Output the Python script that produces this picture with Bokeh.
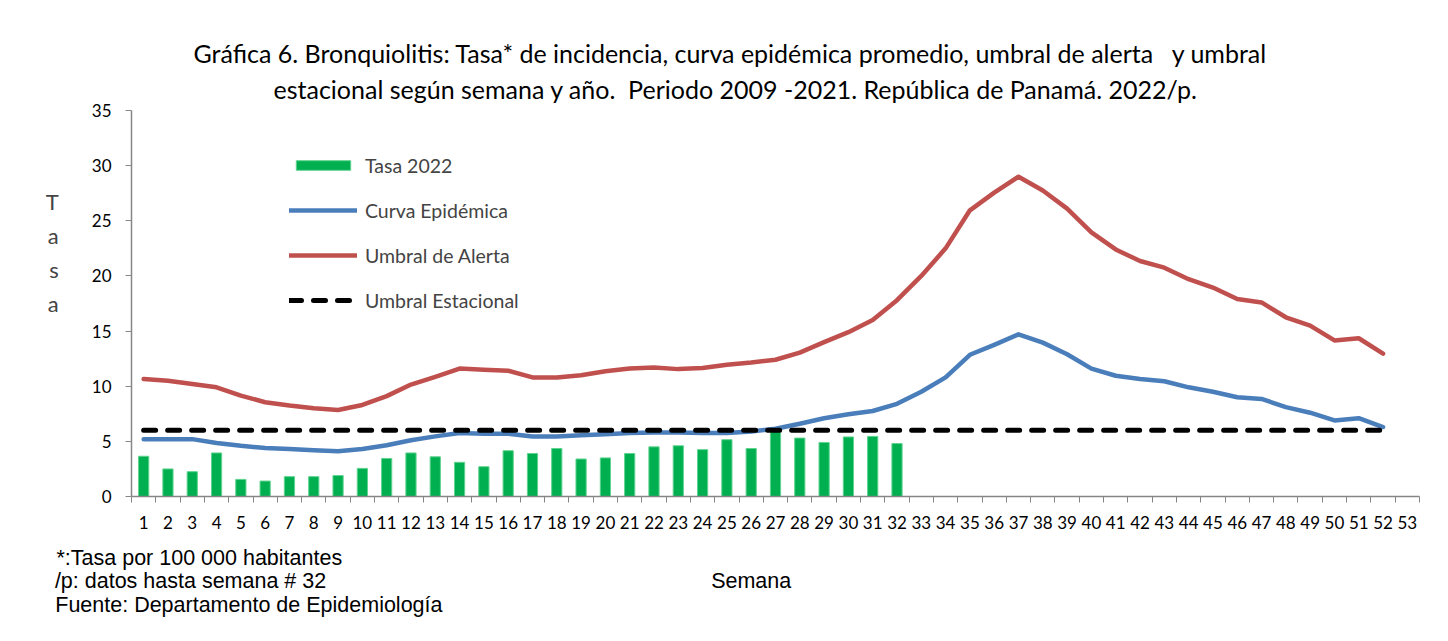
from bokeh.plotting import figure
from bokeh.models import Range1d, FixedTicker, Legend, LegendItem, Title, LinearAxis
from bokeh.embed import file_html
from bokeh.resources import INLINE

# ---- data ----
weeks = list(range(1, 54))
tick_labels = [str(w) for w in weeks]
bar_weeks = list(range(1, 33))
tasa_2022 = [3.65, 2.5, 2.25, 3.95, 1.55, 1.4, 1.8, 1.8, 1.9, 2.55, 3.45, 3.95, 3.6, 3.1, 2.7, 4.15,
             3.9, 4.35, 3.4, 3.5, 3.9, 4.5, 4.6, 4.25, 5.15, 4.35, 6.1, 5.3, 4.9, 5.4, 5.45, 4.8]
line_weeks = list(range(1, 53))
curva_epidemica = [5.2, 5.2, 5.2, 4.85, 4.6, 4.4, 4.3, 4.2, 4.1, 4.3, 4.65, 5.1, 5.45, 5.75, 5.7, 5.7,
                   5.45, 5.45, 5.55, 5.65, 5.75, 5.8, 5.8, 5.75, 5.75, 5.9, 6.15, 6.6, 7.1, 7.45, 7.75, 8.4,
                   9.5, 10.8, 12.85, 13.75, 14.7, 13.95, 12.9, 11.6, 10.95, 10.65, 10.45, 9.9, 9.5, 9.0,
                   8.85, 8.1, 7.6, 6.9, 7.1, 6.3]
umbral_alerta = [10.65, 10.5, 10.2, 9.9, 9.15, 8.55, 8.25, 8.0, 7.85, 8.3, 9.1, 10.15, 10.85, 11.6, 11.5, 11.4,
                 10.8, 10.8, 11.0, 11.35, 11.6, 11.7, 11.55, 11.65, 11.95, 12.15, 12.4, 13.05, 14.0, 14.9, 16.0, 17.8,
                 20.0, 22.5, 25.95, 27.55, 29.0, 27.75, 26.1, 23.95, 22.4, 21.35, 20.75, 19.7, 18.95, 17.9,
                 17.6, 16.25, 15.5, 14.15, 14.35, 12.95]
umbral_estacional = [6.0] * 52
y_ticks = [0, 5, 10, 15, 20, 25, 30, 35]

NB = "\u00a0"
title_lines = ["Gráfica 6. Bronquiolitis: Tasa* de incidencia, curva epidémica promedio, umbral de alerta" + NB * 3 + "y umbral",
               "estacional según semana y año." + NB * 2 + "Periodo 2009 -2021. República de Panamá. 2022/p."]
footnotes = ["*:Tasa por 100 000 habitantes", "/p: datos hasta semana # 32", "Fuente: Departamento de Epidemiología"]
y_label = "T\na\ns\na\n" + NB + "\n" + NB + "\n" + NB
x_label = "Semana"

FONT = "Lato"
AXIS_GREY = "#868686"

p = figure(width=1445, height=638, output_backend="svg", toolbar_location=None,
           x_range=Range1d(0.5, 53.5), y_range=Range1d(0, 35),
           min_border_left=131, min_border_right=26, min_border_top=110, min_border_bottom=142)
p.outline_line_color = None
p.xgrid.visible = False
p.ygrid.visible = False
p.background_fill_color = "white"
p.border_fill_color = "white"

# main x axis
xa = p.xaxis[0]
xa.ticker = FixedTicker(ticks=weeks, minor_ticks=[w - 0.5 for w in weeks] + [53.5])
xa.major_label_overrides = {w: l for w, l in zip(weeks, tick_labels)}
xa.major_tick_out = 0
xa.major_tick_in = 0
xa.minor_tick_out = 6
xa.minor_tick_in = 0
xa.minor_tick_line_color = AXIS_GREY
xa.axis_line_color = AXIS_GREY
xa.axis_line_width = 1.5
xa.major_label_text_font = FONT
xa.major_label_text_font_size = "17px"
xa.major_label_text_color = "black"
xa.major_label_standoff = 13

# footnote rows drawn as label-only axes below the main axis
def text_row(labels_at, standoff, font, size):
    ax = LinearAxis(ticker=FixedTicker(ticks=list(labels_at.keys()), minor_ticks=[]),
                    major_label_overrides=labels_at)
    ax.axis_line_color = None
    ax.major_tick_line_color = None
    ax.minor_tick_line_color = None
    ax.major_tick_out = 0
    ax.major_tick_in = 0
    ax.major_label_standoff = standoff
    ax.major_label_text_font = font
    ax.major_label_text_font_size = size
    ax.major_label_text_color = "black"
    p.add_layout(ax, "below")

text_row({3.29: footnotes[0]}, 14, "Liberation Sans", "21.5px")
text_row({2.93: footnotes[1], 26.0: x_label}, -4, "Liberation Sans", "21.5px")
text_row({5.33: footnotes[2]}, -3, "Liberation Sans", "21.5px")

ya = p.yaxis[0]
ya.ticker = FixedTicker(ticks=y_ticks)
ya.minor_tick_line_color = None
ya.major_tick_out = 6
ya.major_tick_in = 0
ya.major_tick_line_color = AXIS_GREY
ya.axis_line_color = AXIS_GREY
ya.axis_line_width = 1.5
ya.major_label_text_font = FONT
ya.major_label_text_font_size = "17px"
ya.major_label_text_color = "black"
ya.major_label_standoff = 14
ya.axis_label = y_label
ya.axis_label_orientation = "horizontal"
ya.axis_label_text_font = FONT
ya.axis_label_text_font_size = "22px"
ya.axis_label_text_font_style = "normal"
ya.axis_label_text_line_height = 1.256
ya.axis_label_text_align = "center"
ya.axis_label_standoff = 30

# glyphs
bars = p.vbar(x=bar_weeks, top=tasa_2022, width=0.42, fill_color="#00B050", line_color="#5FD38F", line_width=1)
red = p.line(line_weeks, umbral_alerta, line_color="#C0504D", line_width=4.5, line_join="round", line_cap="round")
blue = p.line(line_weeks, curva_epidemica, line_color="#4A7EBB", line_width=4.5, line_join="round", line_cap="round")
dash = p.line(line_weeks, umbral_estacional, line_color="black", line_width=5, line_dash="12 12", line_cap="round")

legend = Legend(items=[LegendItem(label="Tasa 2022", renderers=[bars]),
                       LegendItem(label="Curva Epidémica", renderers=[blue]),
                       LegendItem(label="Umbral de Alerta", renderers=[red]),
                       LegendItem(label="Umbral Estacional", renderers=[dash])],
                location=(158, 184), orientation="vertical",
                glyph_width=68, glyph_height=12, label_height=24, spacing=21,
                label_standoff=8, padding=0, margin=0,
                border_line_color=None, background_fill_alpha=0,
                label_text_font=FONT, label_text_font_size="19.5px")
p.add_layout(legend, "center")

# two-line title
p.add_layout(Title(text=title_lines[1], align="left", offset=142, standoff=13,
                   text_font=FONT, text_font_size="25px", text_font_style="normal", text_color="black"), "above")
p.add_layout(Title(text=title_lines[0], align="left", offset=62, standoff=-5,
                   text_font=FONT, text_font_size="25px", text_font_style="normal", text_color="black"), "above")

open("out.html", "w").write(file_html(p, INLINE))
